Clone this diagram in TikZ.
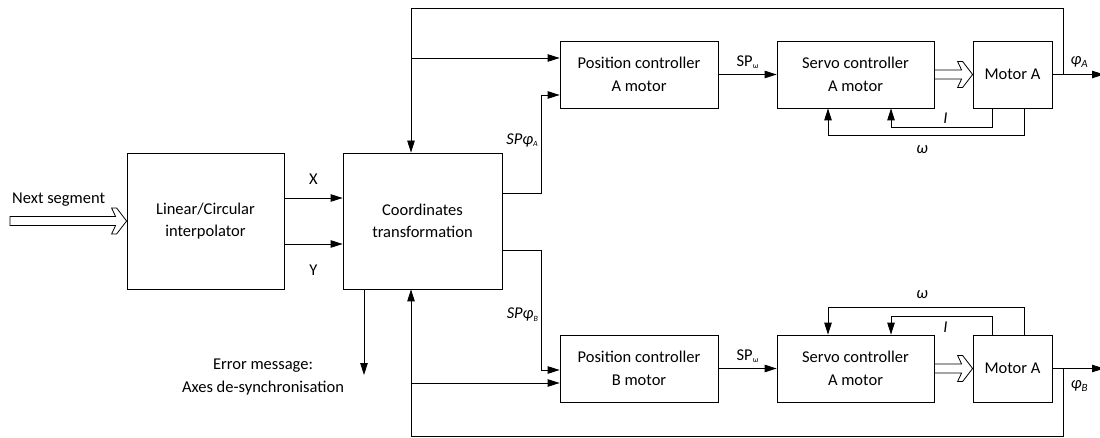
\documentclass[tikz,border=0pt]{standalone}
\usepackage{fontspec}
\setmainfont{Carlito}
\usetikzlibrary{arrows.meta, calc, positioning}

\newcommand{\lowidx}[1]{\raisebox{-2.5pt}{\fontsize{8}{8}\selectfont #1}}
\newcommand{\outidx}[1]{\raisebox{-3pt}{\fontsize{11}{11}\selectfont #1}}
\newcommand{\hollowarrow}[2]{%
  \draw[fat] ($(#1)+(0,-4.5)$) -- ($(#2)+(-11,-4.5)$) -- ($(#2)+(-15,-13)$)
    -- ($(#2)+(-10,-13)$) -- (#2) -- ($(#2)+(-10,13)$) -- ($(#2)+(-15,13)$)
    -- ($(#2)+(-11,4.5)$) -- ($(#1)+(0,4.5)$) -- cycle;}

\begin{document}
\begin{tikzpicture}[x=1pt, y=-1pt, font=\fontsize{16.5}{22.5}\selectfont,
  block/.style={draw, line width=0.8pt, align=center, inner sep=0pt},
  arr/.style={line width=0.8pt, -{Triangle[length=12pt, width=7.5pt]}},
  fat/.style={draw, line width=0.8pt, fill=white, line join=miter}]

  \useasboundingbox (0,0) rectangle (1100,438);
  \clip (0,0) rectangle (1100,438);

  % blocks
  \node[block, minimum width=157pt, minimum height=136pt] (interp) at (205.5,221) {Linear/Circular\\interpolator};
  \node[block, minimum width=159pt, minimum height=136pt] (coord) at (422.5,221) {Coordinates\\transformation};
  \node[block, minimum width=158pt, minimum height=67pt] (posA) at (639,74.5) {Position controller\\A motor};
  \node[block, minimum width=157pt, minimum height=67pt] (servA) at (855.5,74.5) {Servo controller\\A motor};
  \node[block, minimum width=79pt, minimum height=67pt] (motA) at (1012.5,74.5) {Motor A};
  \node[block, minimum width=158pt, minimum height=67pt] (posB) at (639,368.5) {Position controller\\B motor};
  \node[block, minimum width=157pt, minimum height=67pt] (servB) at (855.5,368.5) {Servo controller\\A motor};
  \node[block, minimum width=79pt, minimum height=67pt] (motB) at (1012.5,368.5) {Motor A};

  \coordinate (segin) at (10,221);
  \coordinate (tl) at (411,8);
  \coordinate (tr) at (1063,8);
  \coordinate (bl) at (411,436);
  \coordinate (br) at (1063,436);
  \coordinate (edge) at (1104,0);
  \coordinate (errend) at (364,375);

  % input and interpolator outputs
  \hollowarrow{segin}{interp.west}
  \node[anchor=west, inner sep=2pt] (seglbl) at (10,200) {Next segment};
  \draw[arr] ([yshift=23pt]interp.east) -- node[above=10pt] {X} ([yshift=23pt]coord.west);
  \draw[arr] ([yshift=-23pt]interp.east) -- node[below=17pt] {Y} ([yshift=-23pt]coord.west);

  % set points
  \draw[arr] ([yshift=28pt]coord.east) -| node[pos=0.77, left] {\textit{SPφ}\lowidx{\textit{A}}}
    ([xshift=-18pt, yshift=-20.5pt]posA.west) -- ([yshift=-20.5pt]posA.west);
  \draw[arr] ([yshift=-29pt]coord.east) -| node[pos=0.77, left] {\textit{SPφ}\lowidx{\textit{B}}}
    ([xshift=-18pt, yshift=-1.5pt]posB.west) -- ([yshift=-1.5pt]posB.west);
  \draw[arr] (posA.east) -- node[above=2pt] {SP\lowidx{ω}} (servA.west);
  \draw[arr] (posB.east) -- node[above=2pt] {SP\lowidx{ω}} (servB.west);
  \hollowarrow{servA.east}{motA.west}
  \hollowarrow{servB.east}{motB.west}

  % motor A loops
  \draw[arr] ([xshift=-20.5pt]motA.south) |- node[pos=0.73, above] {\textit{I}}
    ([xshift=35.5pt, yshift=-19pt]servA.south) -- ([xshift=35.5pt]servA.south);
  \draw[arr] ([xshift=11.5pt]motA.south) |- node[pos=0.76, below=6.5pt] {\textit{ω}}
    ([xshift=-27.5pt, yshift=-27pt]servA.south) -- ([xshift=-27.5pt]servA.south);
  \draw[arr] (motA.east) -- node[pos=0.52, above=3pt] {\textit{φ}\outidx{\textit{A}}} (motA.east -| edge);
  \draw[arr] (motA.east -| tr) -- (tr) -- (tl) -- (tl |- coord.north);
  \draw[arr] ([yshift=16.5pt]posA.west -| tl) -- ([yshift=16.5pt]posA.west);

  % motor B loops
  \draw[arr] ([xshift=-20.5pt]motB.north) |- node[pos=0.73, below=2pt] {\textit{I}}
    ([xshift=35.5pt, yshift=18pt]servB.north) -- ([xshift=35.5pt]servB.north);
  \draw[arr] ([xshift=11.5pt]motB.north) |- node[pos=0.76, above=5.5pt] {\textit{ω}}
    ([xshift=-27.5pt, yshift=27pt]servB.north) -- ([xshift=-27.5pt]servB.north);
  \draw[arr] (motB.east) -- node[pos=0.52, below=8pt] {\textit{φ}\outidx{\textit{B}}} (motB.east -| edge);
  \draw[arr] (motB.east -| br) -- (br) -- (bl) -- (bl |- coord.south);
  \draw[arr] ([yshift=-14.5pt]posB.west -| bl) -- ([yshift=-14.5pt]posB.west);

  % error output
  \draw[arr] (coord.south -| errend) -- (errend);
  \node[align=center, anchor=east] (errmsg) at (347.5,377) {Error message:\\Axes de-synchronisation};
\end{tikzpicture}
\end{document}
